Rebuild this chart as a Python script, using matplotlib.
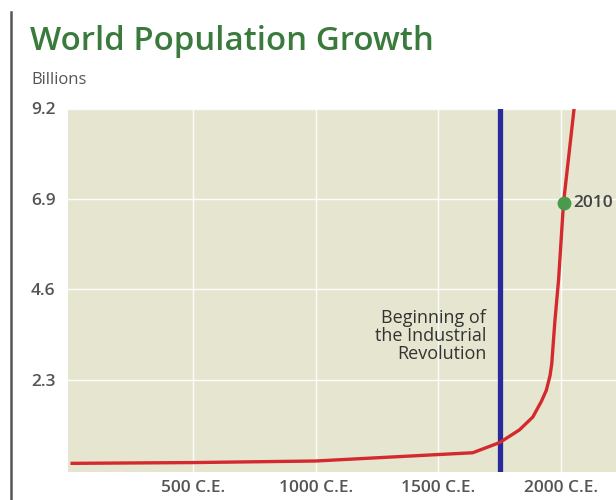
import matplotlib
matplotlib.use("Agg")
import matplotlib.pyplot as plt
from matplotlib.lines import Line2D

# World population estimates (billions) by year
years = [0, 500, 1000, 1640, 1750, 1830, 1885, 1920, 1940, 1955, 1962, 1975, 1990, 2010, 2055]
population = [0.17, 0.19, 0.23, 0.44, 0.70, 1.02, 1.35, 1.75, 2.03, 2.40, 2.70, 3.80, 4.85, 6.8, 9.3]

highlight_year = 2010
highlight_value = 6.8
industrial_year = 1750

y_ticks = [2.3, 4.6, 6.9, 9.2]
y_tick_labels = ["2.3", "4.6", "6.9", "9.2"]
x_ticks = [500, 1000, 1500, 2000]
x_tick_labels = ["500 C.E.", "1000 C.E.", "1500 C.E.", "2000 C.E."]

FONT = "Open Sans"
W, H = 616, 500
fig = plt.figure(figsize=(W / 100, H / 100), dpi=100)
ax = fig.add_axes([68 / W, (H - 472) / H, 1 - 68 / W, (472 - 108.5) / H])

ax.set_facecolor("#e6e6d0")
ax.set_xlim(-10, 2224)
ax.set_ylim(-0.05, 9.2)

for s in ax.spines.values():
    s.set_visible(False)

ax.set_yticks(y_ticks)
ax.set_yticklabels(y_tick_labels)
ax.set_xticks(x_ticks)
ax.set_xticklabels(x_tick_labels)
ax.tick_params(length=0, labelsize=12.5, labelcolor="#555555")
for lab in ax.get_xticklabels() + ax.get_yticklabels():
    lab.set_fontfamily(FONT)
    lab.set_fontweight("semibold")
ax.tick_params(axis="y", pad=9)
ax.tick_params(axis="x", pad=6)

ax.grid(True, color="white", linewidth=1.0, alpha=0.9)
ax.set_axisbelow(True)

ax.axvline(industrial_year, color="#2a2a9e", linewidth=3.8, zorder=3)
ax.plot(years, population, color="#d42a2e", linewidth=2.4, zorder=4,
        solid_capstyle="butt")
ax.plot([highlight_year], [highlight_value], "o", color="#4a9a4e",
        markersize=9, zorder=5)
ax.text(highlight_year + 40, highlight_value, str(highlight_year),
        fontsize=12.5, fontfamily=FONT, fontweight="semibold", color="#444444",
        va="center", ha="left", zorder=6)

ax.text(industrial_year - 55, 2.72, "Beginning of\nthe Industrial\nRevolution",
        fontsize=13, fontfamily=FONT, color="#333333", ha="right", va="bottom",
        linespacing=1.0, zorder=6)

fig.text(30 / W, 1 - 42 / H, "World Population Growth", fontsize=23.8,
         fontfamily=FONT, fontweight="semibold", color="#3a7a3c", va="center")
fig.text(31 / W, 1 - 80 / H, "Billions", fontsize=12, fontfamily=FONT,
         color="#555555", va="center")

fig.add_artist(Line2D([11 / W, 11 / W], [0, 1 - 12 / H], transform=fig.transFigure,
                      color="#555555", linewidth=1.8))

fig.savefig("out.png", dpi=100)
